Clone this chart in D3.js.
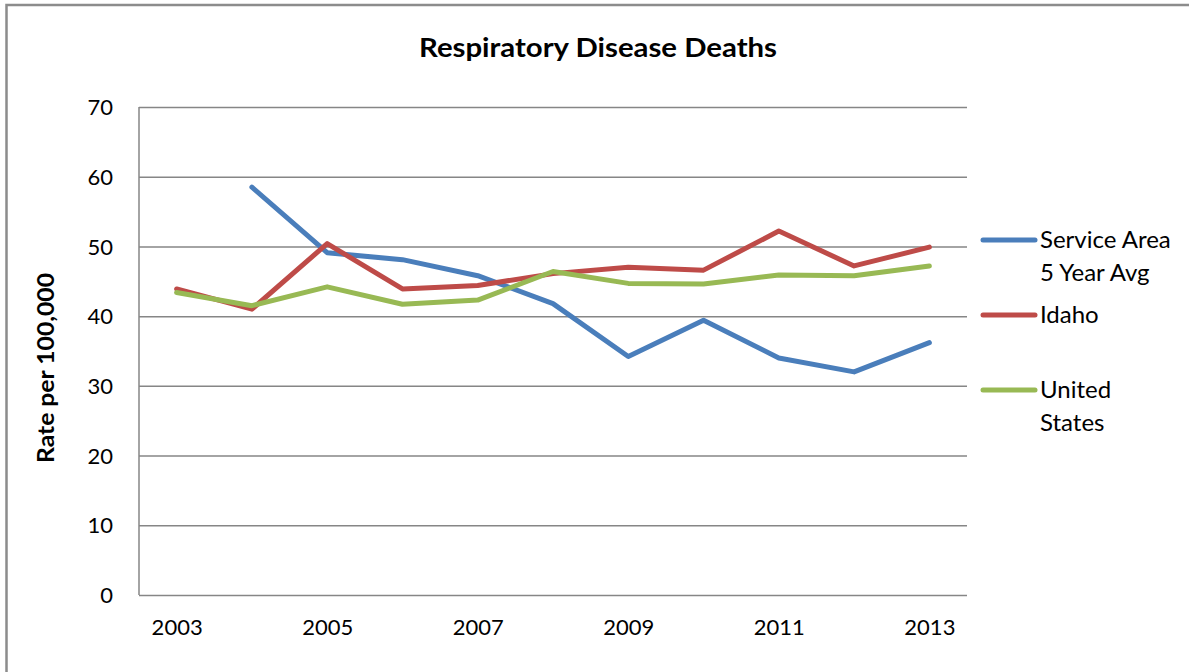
<!DOCTYPE html>
<html>
<head>
<meta charset="utf-8">
<script src="https://cdn.jsdelivr.net/npm/d3@7"></script>
<style>
  html, body { margin: 0; padding: 0; background: #fff; }
  svg { display: block; }
  text { font-family: Lato, "Open Sans", sans-serif; fill: #000; }
</style>
</head>
<body>
<svg id="chart" width="1189" height="672"></svg>
<script>
const years = [2003, 2004, 2005, 2006, 2007, 2008, 2009, 2010, 2011, 2012, 2013];
const xTickLabels = [2003, 2005, 2007, 2009, 2011, 2013];
const yTicks = [0, 10, 20, 30, 40, 50, 60, 70];
const serviceArea = [null, 58.5, 49.1, 48.1, 45.8, 41.8, 34.2, 39.4, 34.0, 32.0, 36.2];
const idaho = [43.9, 41.0, 50.4, 43.9, 44.4, 46.1, 47.0, 46.6, 52.2, 47.2, 49.9];
const unitedStates = [43.4, 41.5, 44.2, 41.7, 42.3, 46.4, 44.7, 44.6, 45.9, 45.8, 47.2];
const seriesNames = [["Service Area", "5 Year Avg"], ["Idaho"], ["United", "States"]];
const seriesColors = ["#4a7ebb", "#be4b48", "#98b954"];
const title = "Respiratory Disease Deaths";
const yTitle = "Rate per 100,000";

const series = [serviceArea, idaho, unitedStates];

const svg = d3.select("#chart");
const plot = { left: 139, right: 967, top: 107, bottom: 595 };

// outer frame
svg.append("rect")
  .attr("x", 6.5).attr("y", 5)
  .attr("width", 1300).attr("height", 800)
  .attr("fill", "none").attr("stroke", "#8c8c8c").attr("stroke-width", 2.5);

const x = d3.scalePoint().domain(years).range([plot.left, plot.right]).padding(0.5);
const y = d3.scaleLinear().domain([0, 70]).range([plot.bottom, plot.top]);

// gridlines
const yAxis = d3.axisLeft(y).tickValues(yTicks).tickSize(-(plot.right - plot.left)).tickFormat(d => d).tickPadding(26);
const gy = svg.append("g").attr("transform", `translate(${plot.left},0)`).call(yAxis);
gy.select(".domain").remove();
gy.selectAll(".tick line").attr("stroke", "#868686").attr("stroke-width", 1.5);
gy.selectAll(".tick text").attr("font-size", 22).attr("fill", "#000")
  .style("font-family", "Lato, sans-serif").attr("dy", "0.35em");

// left axis line
svg.append("line")
  .attr("x1", plot.left).attr("x2", plot.left)
  .attr("y1", plot.top).attr("y2", plot.bottom)
  .attr("stroke", "#868686").attr("stroke-width", 1.5);

// x axis labels
const xAxis = d3.axisBottom(x).tickValues(xTickLabels).tickSize(0).tickPadding(24).tickFormat(d => d);
const gx = svg.append("g").attr("transform", `translate(0,${plot.bottom})`).call(xAxis);
gx.select(".domain").remove();
gx.selectAll(".tick text").attr("font-size", 22).attr("fill", "#000").style("font-family", "Lato, sans-serif");

// lines
const line = d3.line()
  .defined(d => d.v != null)
  .x(d => x(d.year))
  .y(d => y(d.v));

series.forEach((s, i) => {
  svg.append("path")
    .datum(years.map((yr, j) => ({ year: yr, v: s[j] })))
    .attr("d", line)
    .attr("fill", "none")
    .attr("stroke", seriesColors[i])
    .attr("stroke-width", 5)
    .attr("stroke-linejoin", "round")
    .attr("stroke-linecap", "round");
});

// title
svg.append("text")
  .attr("x", 598).attr("y", 57)
  .attr("text-anchor", "middle")
  .attr("font-size", 27).attr("font-weight", "bold")
  .attr("textLength", 358).attr("lengthAdjust", "spacingAndGlyphs")
  .text(title);

// y title
svg.append("text")
  .attr("transform", "translate(54,368) rotate(-90)")
  .attr("text-anchor", "middle")
  .attr("font-size", 22).attr("font-weight", "bold")
  .attr("textLength", 190).attr("lengthAdjust", "spacingAndGlyphs")
  .text(yTitle);

// legend
const legendY = [240, 315, 390];
const legend = svg.append("g");
seriesNames.forEach((lines, i) => {
  const g = legend.append("g");
  g.append("line")
    .attr("x1", 983).attr("x2", 1035)
    .attr("y1", legendY[i]).attr("y2", legendY[i])
    .attr("stroke", seriesColors[i]).attr("stroke-width", 5)
    .attr("stroke-linecap", "round");
  lines.forEach((t, k) => {
    g.append("text")
      .attr("x", 1040).attr("y", legendY[i] + 8 + k * 33)
      .attr("font-size", 24)
      .text(t);
  });
});
</script>
</body>
</html>
